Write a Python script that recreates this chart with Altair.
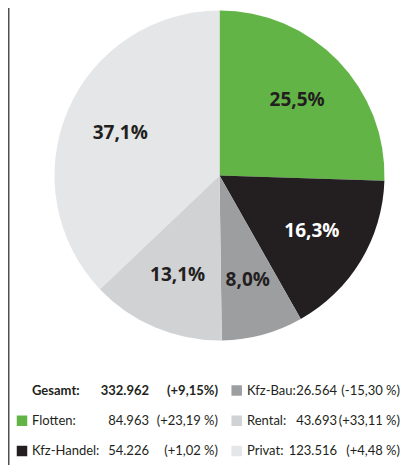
import altair as alt
import pandas as pd

# ---- data ----
categories = ["Flotten", "Kfz-Handel", "Kfz-Bau", "Rental", "Privat"]
counts = [84963, 54226, 26564, 43693, 123516]
pct_labels = ["25,5%", "16,3%", "8,0%", "13,1%", "37,1%"]
value_labels = ["84.963", "54.226", "26.564", "43.693", "123.516"]
change_labels = ["(+23,19 %)", "(+1,02 %)", "(-15,30 %)", "(+33,11 %)", "(+4,48 %)"]
total_name = "Gesamt:"
total_value = "332.962"
total_change = "(+9,15%)"

# ---- style / layout ----
colors = ["#62b446", "#231f20", "#9d9ea0", "#d1d2d4", "#e5e6e7"]
legend_slots = [(0, 1), (0, 2), (1, 0), (1, 1), (1, 2)]  # (column, row) per category
CX, CY, R = 211.5, 167.5, 165
LABEL_R = 108
W, H = 394, 457
dark = "#231f20"
legend_font = "Lato"
legend_size = 13
pie_font = "Open Sans"

pie_df = pd.DataFrame({
    "category": categories,
    "value": counts,
    "pct": pct_labels,
    "order": list(range(len(categories))),
})

leg_df = pd.DataFrame({
    "category": categories,
    "name": [c + ":" for c in categories],
    "val": value_labels,
    "chg": change_labels,
    "col": [s[0] for s in legend_slots],
    "row": [s[1] for s in legend_slots],
})
tot_df = pd.DataFrame({"name": [total_name], "val": [total_value], "chg": [total_change], "row": [0]})

color_scale = alt.Scale(domain=categories, range=colors)
yrow = alt.Y("row:Q", scale=alt.Scale(domain=[0, 2], range=[382.5, 443]), axis=None)

base = alt.Chart(pie_df)
arcs = base.mark_arc(radius=R).encode(
    theta=alt.Theta("value:Q", stack=True),
    order=alt.Order("order:Q"),
    color=alt.Color("category:N", scale=color_scale, legend=None),
    x=alt.value(CX), y=alt.value(CY),
)
labels = base.mark_text(radius=LABEL_R, font=pie_font, fontSize=19, fontWeight="bold").encode(
    theta=alt.Theta("value:Q", stack=True),
    order=alt.Order("order:Q"),
    text="pct:N",
    color=alt.when(alt.datum.category == "Kfz-Handel").then(alt.value("#ffffff")).otherwise(alt.value(dark)),
    x=alt.value(CX), y=alt.value(CY),
)

leg = alt.Chart(leg_df)
col_x = {0: (14, 24, 141, 210), 1: (228.7, 239, 329, 392)}
legend_layers = []
for c, (sx, lx, vx, chx) in col_x.items():
    sub = leg.transform_filter(alt.datum.col == c)
    legend_layers.append(sub.mark_square(size=110, opacity=1).encode(
        x=alt.value(sx), y=yrow,
        color=alt.Color("category:N", scale=color_scale, legend=None)))
    legend_layers.append(sub.mark_text(align="left", baseline="middle", font=legend_font, fontSize=legend_size, color=dark).encode(
        x=alt.value(lx), y=yrow, text="name:N"))
    legend_layers.append(sub.mark_text(align="right", baseline="middle", font=legend_font, fontSize=legend_size, color=dark).encode(
        x=alt.value(vx), y=yrow, text="val:N"))
    legend_layers.append(sub.mark_text(align="right", baseline="middle", font=legend_font, fontSize=legend_size, color=dark).encode(
        x=alt.value(chx), y=yrow, text="chg:N"))

tot = alt.Chart(tot_df)
for field, align, xx in [("name", "left", 24), ("val", "right", 141), ("chg", "right", 210)]:
    legend_layers.append(tot.mark_text(align=align, baseline="middle", font=legend_font, fontSize=legend_size,
                                       fontWeight="bold", color=dark).encode(
        x=alt.value(xx), y=yrow, text=f"{field}:N"))

rule = alt.Chart(tot_df).mark_rule(color="#505050", strokeWidth=1.5).encode(
    x=alt.value(0.75), y=alt.value(0), y2=alt.value(H))

chart = alt.layer(arcs, labels, *legend_layers, rule).properties(
    width=W, height=H, padding=0, autosize=alt.AutoSizeParams(type="none")
).configure_view(stroke=None)

chart.save("out.html", embed_options={"renderer": "svg", "actions": False})
